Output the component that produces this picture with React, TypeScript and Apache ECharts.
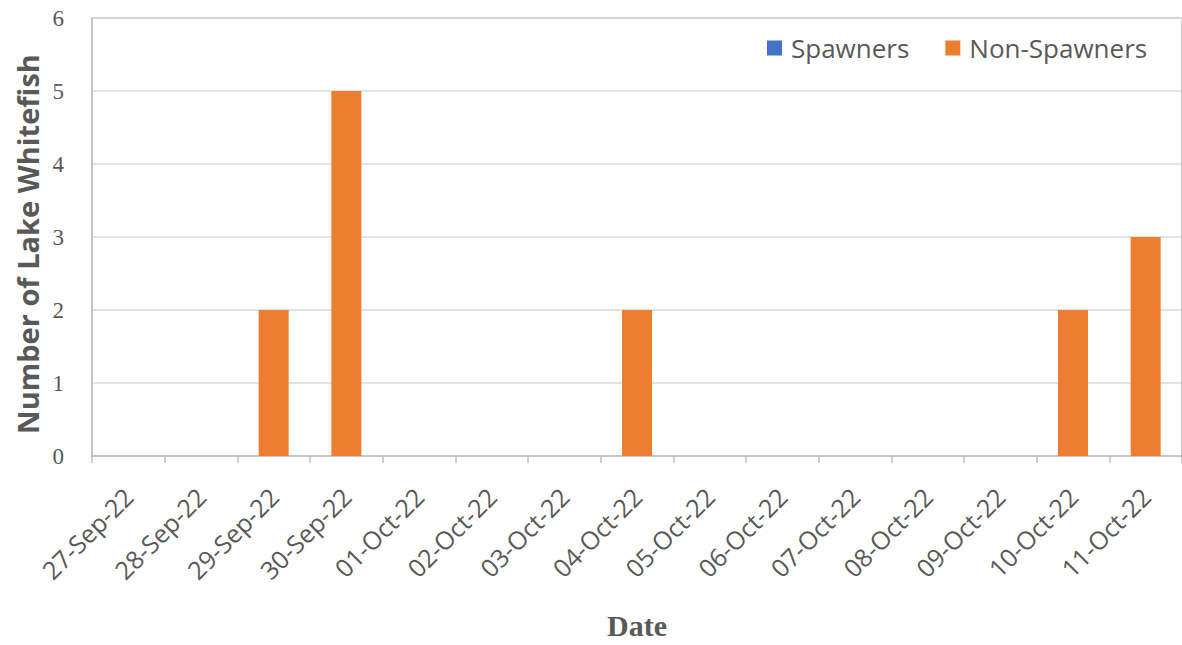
import React, { useEffect, useRef } from "react";
import * as echarts from "echarts";

const dates = [
  "27-Sep-22", "28-Sep-22", "29-Sep-22", "30-Sep-22", "01-Oct-22",
  "02-Oct-22", "03-Oct-22", "04-Oct-22", "05-Oct-22", "06-Oct-22",
  "07-Oct-22", "08-Oct-22", "09-Oct-22", "10-Oct-22", "11-Oct-22",
];
const spawners = [0, 0, 0, 0, 0, 0, 0, 0, 0, 0, 0, 0, 0, 0, 0];
const nonSpawners = [0, 0, 2, 5, 0, 0, 0, 2, 0, 0, 0, 0, 0, 2, 3];

const SANS = "'Open Sans', 'Noto Sans', sans-serif";
const SERIF = "'Liberation Serif', 'Times New Roman', serif";
const TEXT = "#595959";

export default function App() {
  const ref = useRef<HTMLDivElement>(null);

  useEffect(() => {
    if (!ref.current) return;
    const chart = echarts.init(ref.current, undefined, { renderer: "svg" });
    chart.setOption({
      animation: false,
      backgroundColor: "#ffffff",
      grid: {
        left: 92,
        top: 18,
        width: 1094,
        height: 448,
        show: true,
        borderColor: "#bfbfbf",
        borderWidth: 1.5,
        containLabel: false,
      },
      legend: {
        left: 762,
        top: 30,
        itemWidth: 15,
        itemHeight: 15,
        itemGap: 36,
        icon: "rect",
        textStyle: {
          fontFamily: SANS,
          fontSize: 26,
          color: TEXT,
          padding: [0, 0, 0, 4],
        },
        data: ["Spawners", "Non-Spawners"],
      },
      xAxis: {
        type: "category",
        data: dates,
        name: "Date",
        nameLocation: "middle",
        nameGap: 154,
        nameTextStyle: {
          fontFamily: SERIF,
          fontWeight: "bold",
          fontSize: 30,
          color: TEXT,
        },
        axisLine: { lineStyle: { color: "#bfbfbf", width: 1.5 } },
        axisTick: { show: true, length: 7, lineStyle: { color: "#bfbfbf", width: 1.5 } },
        axisLabel: {
          rotate: 45,
          margin: 36,
          fontFamily: SANS,
          fontSize: 25,
          color: TEXT,
          interval: 0,
        },
      },
      yAxis: {
        type: "value",
        min: 0,
        max: 6,
        interval: 1,
        name: "Number of Lake Whitefish",
        nameLocation: "middle",
        nameGap: 50,
        nameTextStyle: {
          fontFamily: SANS,
          fontWeight: "bold",
          fontSize: 29,
          color: TEXT,
          padding: [0, 14, 0, 0],
        },
        axisLine: { show: true, lineStyle: { color: "#bfbfbf", width: 1.5 } },
        axisTick: { show: false },
        axisLabel: {
          margin: 28,
          fontFamily: SERIF,
          fontSize: 23,
          color: TEXT,
        },
        splitLine: { lineStyle: { color: "#d9d9d9", width: 1.5 } },
      },
      series: [
        {
          name: "Spawners",
          type: "bar",
          data: spawners,
          barWidth: 30,
          barGap: "-100%",
          itemStyle: { color: "#4472C4" },
        },
        {
          name: "Non-Spawners",
          type: "bar",
          data: nonSpawners,
          barWidth: 30,
          itemStyle: { color: "#ED7D31" },
        },
      ],
    });
    return () => chart.dispose();
  }, []);

  return (
    <div
      ref={ref}
      style={{ position: "absolute", left: 0, top: 0, width: 1182, height: 645 }}
    />
  );
}
